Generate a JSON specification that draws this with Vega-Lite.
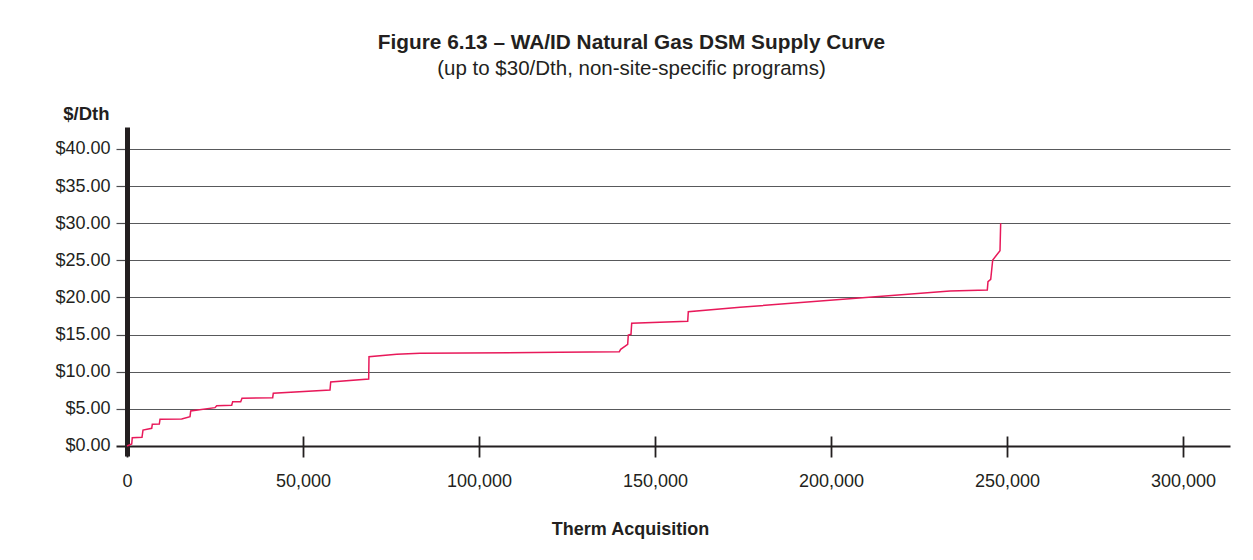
{
  "$schema": "https://vega.github.io/schema/vega-lite/v6.json",
  "width": 1103,
  "height": 329,
  "autosize": {"type": "none"},
  "padding": {"left": 127, "top": 127, "right": 23, "bottom": 104},
  "background": "white",
  "title": {
    "text": "Figure 6.13 – WA/ID Natural Gas DSM Supply Curve",
    "subtitle": "(up to $30/Dth, non-site-specific programs)",
    "anchor": "middle",
    "frame": "group",
    "dx": -47,
    "offset": 24,
    "font": "Liberation Sans",
    "fontSize": 20.8,
    "fontWeight": "bold",
    "color": "#231f20",
    "subtitleFont": "Liberation Sans",
    "subtitleFontSize": 20.5,
    "subtitleColor": "#231f20",
    "subtitlePadding": 5
  },
  "data": {
    "values": [
      {"therms": 0, "cost": 0},
      {"therms": 1340, "cost": 0.27},
      {"therms": 1500, "cost": 1.12},
      {"therms": 4260, "cost": 1.17},
      {"therms": 4550, "cost": 2.15},
      {"therms": 7020, "cost": 2.38},
      {"therms": 7190, "cost": 2.92},
      {"therms": 9180, "cost": 2.96},
      {"therms": 9380, "cost": 3.6},
      {"therms": 15540, "cost": 3.64},
      {"therms": 17900, "cost": 3.95},
      {"therms": 18100, "cost": 4.71},
      {"therms": 25000, "cost": 5.16},
      {"therms": 25480, "cost": 5.43},
      {"therms": 29740, "cost": 5.48},
      {"therms": 30030, "cost": 5.97},
      {"therms": 32300, "cost": 5.97},
      {"therms": 32670, "cost": 6.42},
      {"therms": 41390, "cost": 6.5},
      {"therms": 41560, "cost": 7.1},
      {"therms": 57670, "cost": 7.54},
      {"therms": 57870, "cost": 8.62},
      {"therms": 68660, "cost": 9.02},
      {"therms": 68750, "cost": 12.03},
      {"therms": 76620, "cost": 12.35},
      {"therms": 83240, "cost": 12.48},
      {"therms": 123000, "cost": 12.62},
      {"therms": 139860, "cost": 12.7},
      {"therms": 140250, "cost": 13.02},
      {"therms": 142240, "cost": 13.7},
      {"therms": 142410, "cost": 14.95},
      {"therms": 143180, "cost": 15.04},
      {"therms": 143380, "cost": 16.53},
      {"therms": 159290, "cost": 16.8},
      {"therms": 159460, "cost": 18.09},
      {"therms": 174150, "cost": 18.68},
      {"therms": 233800, "cost": 20.88},
      {"therms": 244400, "cost": 21.01},
      {"therms": 244600, "cost": 22.13},
      {"therms": 245370, "cost": 22.45},
      {"therms": 245940, "cost": 25.05},
      {"therms": 248010, "cost": 26.3},
      {"therms": 248200, "cost": 30.0}
    ]
  },
  "mark": {"type": "line", "color": "#e8195a", "strokeWidth": 1.5, "clip": false},
  "encoding": {
    "x": {
      "field": "therms",
      "type": "quantitative",
      "scale": {"domain": [0, 313350], "nice": false, "zero": false},
      "axis": {
        "values": [0, 50000, 100000, 150000, 200000, 250000, 300000],
        "format": ",.0f",
        "title": "Therm Acquisition",
        "domain": false,
        "grid": false,
        "offset": -20,
        "ticks": true,
        "tickSize": 21,
        "tickColor": "#231f20",
        "tickWidth": 1.8,
        "labelPadding": 15,
        "labelFont": "Liberation Sans",
        "labelFontSize": 18,
        "labelColor": "#231f20",
        "labelFlush": false,
        "labelOverlap": false,
        "titleFont": "Liberation Sans",
        "titleFontSize": 18,
        "titleFontWeight": "bold",
        "titleColor": "#231f20",
        "titleAnchor": null,
        "titleAlign": "center",
        "titleBaseline": "alphabetic",
        "titleX": 503,
        "titleY": 98
      }
    },
    "y": {
      "field": "cost",
      "type": "quantitative",
      "scale": {"domain": [-1.35, 42.96], "nice": false, "zero": false},
      "axis": {
        "values": [0, 5, 10, 15, 20, 25, 30, 35, 40],
        "format": "$.2f",
        "title": "$/Dth",
        "titleAngle": 0,
        "titleAlign": "right",
        "titleBaseline": "alphabetic",
        "titleAnchor": null,
        "titleX": -18,
        "titleY": -8,
        "titleFont": "Liberation Sans",
        "titleFontSize": 18.5,
        "titleFontWeight": "bold",
        "titleColor": "#231f20",
        "domain": true,
        "domainColor": "#231f20",
        "domainWidth": 5,
        "grid": true,
        "gridColor": {"condition": {"test": "datum.value === 0", "value": "#231f20"}, "value": "#58595b"},
        "gridWidth": {"condition": {"test": "datum.value === 0", "value": 2}, "value": 1.2},
        "ticks": true,
        "tickSize": 11,
        "tickColor": {"condition": {"test": "datum.value === 0", "value": "#231f20"}, "value": "#4d4d4f"},
        "tickWidth": {"condition": {"test": "datum.value === 0", "value": 2}, "value": 1.2},
        "labelPadding": 6,
        "labelFont": "Liberation Sans",
        "labelFontSize": 18,
        "labelColor": "#231f20",
        "labelFlush": false,
        "labelOverlap": false
      }
    },
    "order": {"value": null}
  },
  "config": {
    "view": {"stroke": null}
  }
}
